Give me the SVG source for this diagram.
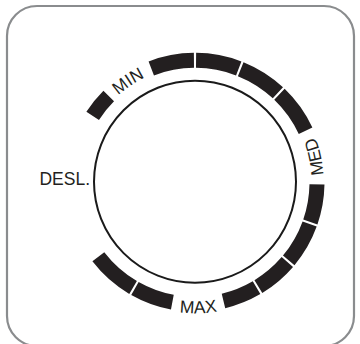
<svg xmlns="http://www.w3.org/2000/svg" width="360" height="344" viewBox="0 0 360 344">
<style>
.frame{fill:#fff;stroke:#8a8c8e;stroke-width:2.2}
.dial{fill:none;stroke:#1a1a1a;stroke-width:2}
.seg{fill:none;stroke:#231f20;stroke-width:15;stroke-linecap:butt}
.lbl{font-family:"Liberation Sans",Arial,sans-serif;font-size:17.5px;fill:#231f20}
</style>
<defs>
<path id="pMIN" d="M91.19,130.54 A116,116 0 0 1 187.92,66.52"/>
<path id="pMED" d="M317.21,222.01 A128.5,128.5 0 0 0 290.49,96.32"/>
<path id="pMAX" d="M132.49,297.42 A131,131 0 0 0 263.45,293.99"/>
</defs>
<rect class="frame" x="7" y="6" width="347" height="340" rx="30"/>
<g id="dial">
<circle class="dial" cx="195" cy="181.7" r="101"/>
</g>
<g id="scale">
<path class="seg" d="M92.68,115.86 A122,122 0 0 1 108.73,96.03"/>
<path class="seg" d="M151.28,68.40 A122,122 0 0 1 193.94,60.30"/>
<path class="seg" d="M196.06,60.30 A122,122 0 0 1 238.72,68.40"/>
<path class="seg" d="M240.70,69.18 A122,122 0 0 1 277.89,92.79"/>
<path class="seg" d="M279.44,94.24 A122,122 0 0 1 305.57,130.74"/>
<path class="seg" d="M316.98,184.43 A122,122 0 0 1 310.35,222.02"/>
<path class="seg" d="M309.64,224.03 A122,122 0 0 1 288.73,260.39"/>
<path class="seg" d="M287.35,262.01 A122,122 0 0 1 258.38,286.55"/>
<path class="seg" d="M256.55,287.63 A122,122 0 0 1 223.48,300.93"/>
<path class="seg" d="M172.35,302.18 A122,122 0 0 1 134.93,288.49"/>
<path class="seg" d="M133.08,287.42 A122,122 0 0 1 98.34,256.73"/>
</g>
<g id="labels">
<text class="lbl" x="90" y="185" text-anchor="end">DESL.</text>
<text class="lbl" text-anchor="middle"><textPath href="#pMIN" startOffset="50%">MIN</textPath></text>
<text class="lbl" text-anchor="middle"><textPath href="#pMED" startOffset="50%">MED</textPath></text>
<text class="lbl" text-anchor="middle"><textPath href="#pMAX" startOffset="50%">MAX</textPath></text>
</g>
</svg>
